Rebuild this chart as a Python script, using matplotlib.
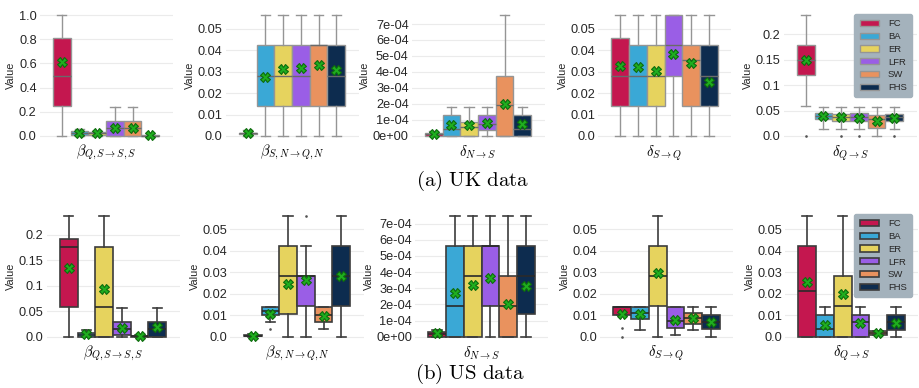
import matplotlib
matplotlib.use('Agg')
import matplotlib.pyplot as plt
from matplotlib.patches import Patch

plt.rcParams['mathtext.fontset'] = 'cm'
plt.rcParams['font.family'] = ['Liberation Sans', 'DejaVu Sans']

METHODS = ['FC', 'BA', 'ER', 'LFR', 'SW', 'FHS']
COLORS = ['#c4174f', '#3aa8d6', '#e6d35e', '#9a5ee6', '#e9925e', '#0d2c4f']

PARAMS = [r'$\beta_{Q,S\rightarrow S,S}$', r'$\beta_{S,N\rightarrow Q,N}$',
          r'$\delta_{N\rightarrow S}$', r'$\delta_{S\rightarrow Q}$', r'$\delta_{Q\rightarrow S}$']

# one row per method: (whislo, q1, median, q3, whishi, mean)
UK_BETA_Q = [(0, 0.25, 0.50, 0.81, 1.0, 0.61),
             (0, 0.005, 0.028, 0.042, 0.055, 0.027),
             (0, 0.008, 0.021, 0.036, 0.045, 0.027),
             (0, 0, 0.064, 0.12, 0.238, 0.064),
             (0, 0, 0.064, 0.12, 0.238, 0.064),
             (0, 0, 0.003, 0.006, 0.01, 0.005)]
UK_BETA_SN = [(0, 0.0009, 0.0012, 0.0016, 0.003, 0.0012),
              (0, 0.0141, 0.0282, 0.0423, 0.0564, 0.0275),
              (0, 0.0141, 0.0282, 0.0423, 0.0564, 0.031),
              (0, 0.0141, 0.0282, 0.0423, 0.0564, 0.0316),
              (0, 0.0141, 0.0423, 0.0423, 0.0564, 0.0333),
              (0, 0.0141, 0.0282, 0.0423, 0.0564, 0.0306)]
UK_DELTA_NS = [(0, 0, 0.1e-4, 0.17e-4, 0.31e-4, 0.1e-4),
               (0, 0, 0.45e-4, 1.34e-4, 1.79e-4, 0.67e-4),
               (0, 0, 0.58e-4, 0.9e-4, 1.79e-4, 0.67e-4),
               (0, 0.37e-4, 0.75e-4, 1.34e-4, 1.79e-4, 0.81e-4),
               (0, 0, 1.92e-4, 3.75e-4, 7.56e-4, 2.0e-4),
               (0, 0, 0.45e-4, 1.34e-4, 1.79e-4, 0.73e-4)]
UK_DELTA_SQ = [(0, 0.0141, 0.0282, 0.0459, 0.0564, 0.0325),
               (0, 0.0141, 0.0282, 0.0423, 0.0564, 0.032),
               (0, 0.0141, 0.0282, 0.0423, 0.0564, 0.0305),
               (0, 0.0282, 0.0423, 0.0564, 0.0564, 0.038),
               (0, 0.0141, 0.0356, 0.0423, 0.0564, 0.0339),
               (0, 0.0141, 0.0282, 0.0423, 0.0564, 0.025)]
UK_DELTA_QS = [(0.0594, 0.119, 0.149, 0.179, 0.238, 0.149),
               (0.0139, 0.033, 0.040, 0.046, 0.0568, 0.0396),
               (0.0139, 0.030, 0.038, 0.043, 0.0568, 0.037),
               (0.0139, 0.030, 0.037, 0.045, 0.0568, 0.035),
               (0, 0.0152, 0.033, 0.0416, 0.0568, 0.029),
               (0.0139, 0.030, 0.037, 0.043, 0.0568, 0.036)]

US_BETA_Q = [(0, 0.059, 0.177, 0.192, 0.238, 0.136),
             (0, 0, 0.003, 0.008, 0.013, 0.005),
             (0, 0, 0.059, 0.177, 0.238, 0.093),
             (0, 0.004, 0.0144, 0.028, 0.057, 0.0164),
             (0, 0, 0.001, 0.002, 0.003, 0.002),
             (0, 0, 0.0141, 0.028, 0.057, 0.018)]
US_BETA_SN = [(0, 0.0002, 0.0005, 0.0008, 0.0012, 0.0005),
              (0.0069, 0.0099, 0.0118, 0.0137, 0.0137, 0.0107),
              (0, 0.0107, 0.0283, 0.0424, 0.0564, 0.0247),
              (0, 0.0143, 0.0283, 0.0283, 0.0424, 0.0263),
              (0.0036, 0.0068, 0.0102, 0.0137, 0.0137, 0.0094),
              (0, 0.0143, 0.0283, 0.0424, 0.0564, 0.0283)]
US_DELTA_NS = [(0, 0, 0.15e-4, 0.31e-4, 0.41e-4, 0.2e-4),
               (0, 0, 1.88e-4, 5.59e-4, 7.5e-4, 2.73e-4),
               (0, 0, 3.73e-4, 5.59e-4, 7.5e-4, 3.23e-4),
               (0, 1.88e-4, 5.59e-4, 5.59e-4, 7.5e-4, 3.66e-4),
               (0, 0, 1.88e-4, 3.73e-4, 7.5e-4, 2.03e-4),
               (0, 1.41e-4, 3.73e-4, 5.59e-4, 7.5e-4, 3.17e-4)]
US_DELTA_SQ = [(0.0101, 0.0101, 0.0137, 0.0137, 0.0137, 0.0104),
               (0.0033, 0.0082, 0.0108, 0.0137, 0.0137, 0.0104),
               (0, 0.0143, 0.0283, 0.0424, 0.0564, 0.0296),
               (0.0009, 0.0042, 0.0072, 0.0137, 0.0137, 0.0079),
               (0.0033, 0.006, 0.0086, 0.0108, 0.0137, 0.0086),
               (0, 0.0035, 0.0068, 0.0102, 0.0137, 0.0068)]
US_DELTA_QS = [(0, 0, 0.0215, 0.0424, 0.0564, 0.0256),
               (0, 0, 0.0035, 0.0101, 0.0137, 0.0055),
               (0, 0, 0.0143, 0.0285, 0.0564, 0.02),
               (0, 0, 0.0068, 0.0101, 0.0137, 0.0063),
               (0.0006, 0.0006, 0.0016, 0.0025, 0.0025, 0.0016),
               (0, 0.0033, 0.0068, 0.0101, 0.0137, 0.0063)]

# outliers per method
UK_QS_FLIERS = [[0], [], [0], [0], [], [0]]
US_SN_FLIERS = [[], [0.0035], [], [0.0564], [], []]
US_SQ_FLIERS = [[0.004, 0], [], [], [], [], []]
NO_FLIERS = [[], [], [], [], [], []]

# y ticks and their labels
TICKS_10 = [0, 0.2, 0.4, 0.6, 0.8, 1.0]
LABELS_10 = ['0.0', '0.2', '0.4', '0.6', '0.8', '1.0']
TICKS_05 = [0, 0.01, 0.02, 0.03, 0.04, 0.05]
LABELS_05 = ['0.0', '0.01', '0.02', '0.03', '0.04', '0.05']
TICKS_20 = [0, 0.05, 0.1, 0.15, 0.2]
LABELS_20 = ['0.0', '0.05', '0.1', '0.15', '0.2']
TICKS_E4 = [0, 1e-4, 2e-4, 3e-4, 4e-4, 5e-4, 6e-4, 7e-4]
LABELS_E4 = ['0e+00', '1e-04', '2e-04', '3e-04', '4e-04', '5e-04', '6e-04', '7e-04']

UK_PANELS = [(UK_BETA_Q, NO_FLIERS, TICKS_10, LABELS_10),
             (UK_BETA_SN, NO_FLIERS, TICKS_05, LABELS_05),
             (UK_DELTA_NS, NO_FLIERS, TICKS_E4, LABELS_E4),
             (UK_DELTA_SQ, NO_FLIERS, TICKS_05, LABELS_05),
             (UK_DELTA_QS, UK_QS_FLIERS, TICKS_20, LABELS_20)]
US_PANELS = [(US_BETA_Q, NO_FLIERS, TICKS_20, LABELS_20),
             (US_BETA_SN, US_SN_FLIERS, TICKS_05, LABELS_05),
             (US_DELTA_NS, NO_FLIERS, TICKS_E4, LABELS_E4),
             (US_DELTA_SQ, US_SQ_FLIERS, TICKS_05, LABELS_05),
             (US_DELTA_QS, NO_FLIERS, TICKS_05, LABELS_05)]

W, H = 919, 388
fig = plt.figure(figsize=(W / 100, H / 100), dpi=100)


def draw_panel(ax, stats, fliers, ticks, labels, edge, lw, med_color, param):
    n = len(stats)
    step = 0.8 / n
    pos = [-0.4 + step / 2 + i * step for i in range(n)]
    bstats = []
    for (lo, q1, med, q3, hi, mean), fl in zip(stats, fliers):
        bstats.append(dict(whislo=lo, q1=q1, med=med, q3=q3, whishi=hi,
                           mean=mean, fliers=fl))
    bp = ax.bxp(bstats, positions=pos, widths=step, patch_artist=True,
                showmeans=True, manage_ticks=False,
                boxprops=dict(edgecolor=edge, linewidth=lw),
                whiskerprops=dict(color=edge, linewidth=lw),
                capprops=dict(color=edge, linewidth=lw),
                medianprops=dict(color=med_color, linewidth=lw),
                meanprops=dict(marker='X', markerfacecolor='#1fae1f',
                               markeredgecolor='#0d6b0d', markersize=7,
                               markeredgewidth=0.8),
                flierprops=dict(marker='o', markersize=0.9,
                                markerfacecolor='#555555', markeredgecolor='#555555'))
    for patch, c in zip(bp['boxes'], COLORS):
        patch.set_facecolor(c)
    for cap in bp['caps']:
        x0, x1 = cap.get_xdata()
        mid = (x0 + x1) / 2
        cap.set_xdata([mid - step * 0.27, mid + step * 0.27])
    top = max(max(s[4] for s in stats), max([max(f) for f in fliers if f] + [0]))
    bot = min(min(s[0] for s in stats), min([min(f) for f in fliers if f] + [0]))
    rng = top - bot
    ax.set_ylim(bot - 0.05 * rng, top + 0.05 * rng)
    ax.set_xlim(-0.5, 0.5)
    ax.set_xticks([])
    ax.set_yticks(ticks)
    ax.set_yticklabels(labels)
    ax.tick_params(axis='y', length=0, labelsize=9.2, labelcolor='#262626', pad=2)
    ax.grid(axis='y', color='#ebebeb', linewidth=0.8)
    ax.set_axisbelow(True)
    for s in ax.spines.values():
        s.set_visible(False)
    ax.set_ylabel('Value', fontsize=7.8, color='#262626', labelpad=2)
    ax.set_xlabel(param, fontsize=10.5, labelpad=1)


def add_row(panels, centers, y_top, y_bot, edge, lw, med_color, legend_top):
    axes = []
    for (stats, fliers, ticks, labels), cx, param in zip(panels, centers, PARAMS):
        ax = fig.add_axes([(cx - 66.5) / W, 1 - y_bot / H, 133 / W, (y_bot - y_top) / H])
        draw_panel(ax, stats, fliers, ticks, labels, edge, lw, med_color, param)
        axes.append(ax)
    handles = [Patch(facecolor=c, edgecolor=edge, linewidth=lw) for c in COLORS]
    leg = axes[-1].legend(handles, METHODS, loc='upper right',
                          bbox_to_anchor=(912 / W, 1 - legend_top / H),
                          bbox_transform=fig.transFigure, borderaxespad=0,
                          fontsize=6.8, handlelength=2.1, handleheight=0.65,
                          labelspacing=0.4, borderpad=0.55, handletextpad=0.9,
                          frameon=True, fancybox=True, framealpha=1)
    leg.get_frame().set_facecolor('#a4b2bc')
    leg.get_frame().set_edgecolor('#a4b2bc')
    for t in leg.get_texts():
        t.set_color('#262626')
    return axes


add_row(UK_PANELS, [106, 292, 478, 664.5, 850], 9, 142, '#959595', 1.0, '#6a6a6a', 14)
add_row(US_PANELS, [113, 297, 481.5, 666.5, 851.5], 209.6, 342.7, '#3c3c3c', 1.2, '#2a2a2a', 214)

fig.text(473 / W, 1 - 181 / H, r'$\mathrm{(a)\ UK\ data}$', ha='center', va='center', fontsize=15)
fig.text(470 / W, 1 - 374 / H, r'$\mathrm{(b)\ US\ data}$', ha='center', va='center', fontsize=15)

fig.savefig('out.png', dpi=100)
